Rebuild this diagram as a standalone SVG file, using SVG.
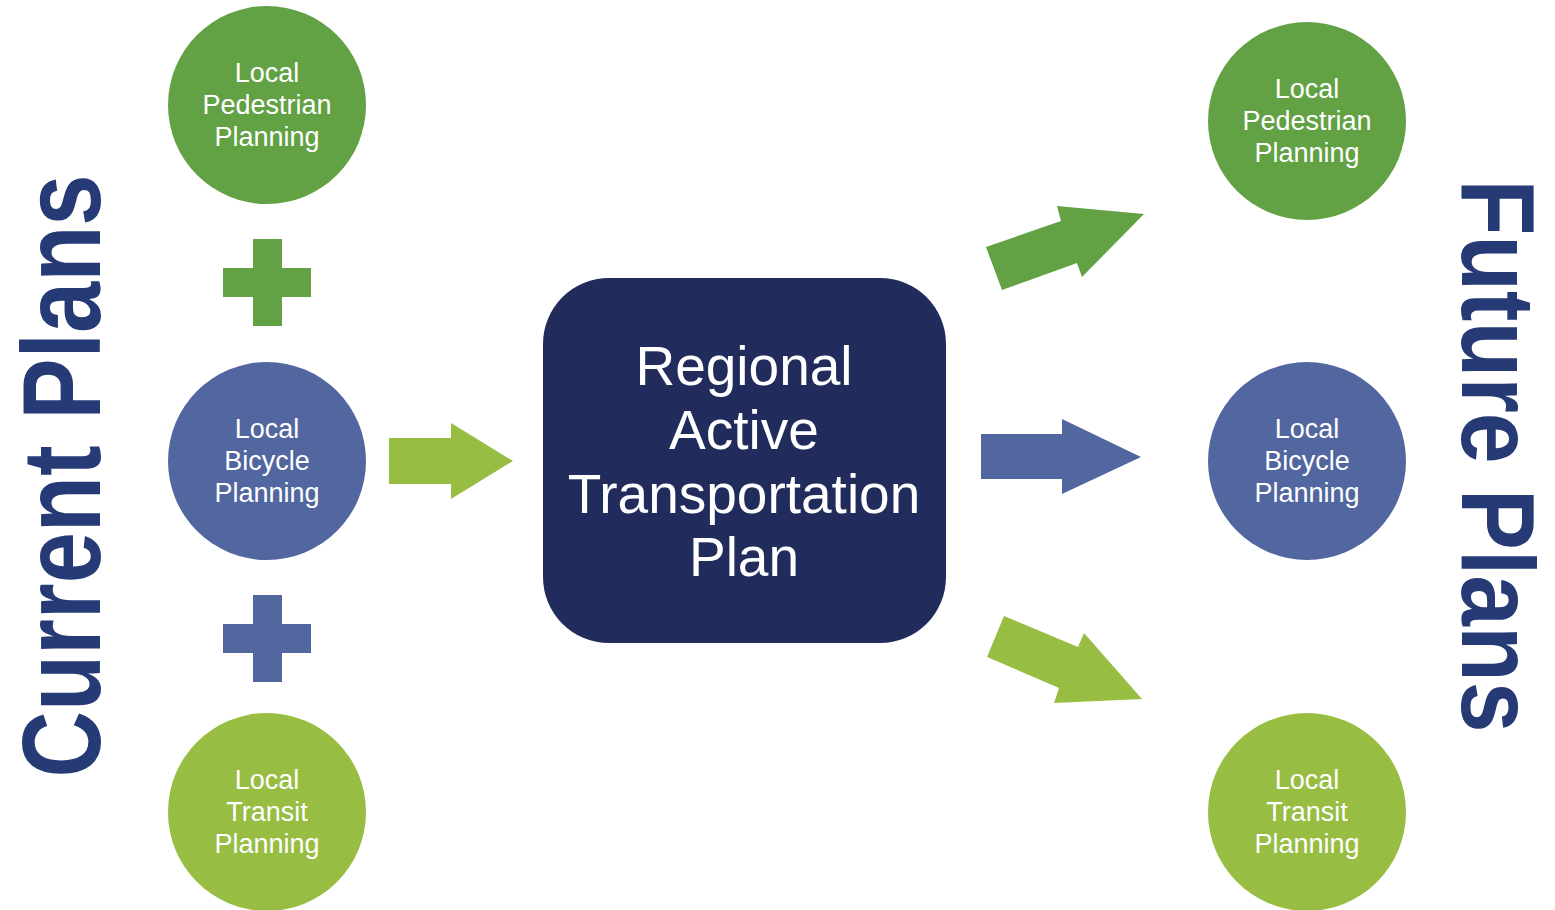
<svg xmlns="http://www.w3.org/2000/svg" width="1555" height="910" viewBox="0 0 1555 910">
<style>
.ct{font-family:"Liberation Sans",Arial,sans-serif;font-size:27px;fill:#ffffff;text-anchor:middle}
.big{font-family:"Liberation Sans",Arial,sans-serif;font-size:55px;fill:#ffffff;text-anchor:middle}
.side{font-family:"Liberation Sans",Arial,sans-serif;font-weight:bold;font-size:112px;fill:#263A75;text-anchor:middle}
.g{fill:#62A144}.b{fill:#5266A0}.lg{fill:#97BD43}.n{fill:#212B5C}
</style>
<rect width="1555" height="910" fill="#ffffff"/>
<g id="title-current"><text class="side" transform="translate(100,476) rotate(-90)" textLength="603" lengthAdjust="spacingAndGlyphs">Current Plans</text></g>
<g id="title-future"><text class="side" transform="translate(1462,456) rotate(90)" textLength="553" lengthAdjust="spacingAndGlyphs" style="font-size:104px">Future Plans</text></g>

<g id="cur-ped"><circle class="g" cx="267" cy="105" r="99"/>
<text class="ct" x="267" y="82">Local</text><text class="ct" x="267" y="114">Pedestrian</text><text class="ct" x="267" y="146">Planning</text></g>
<g id="cur-bike"><circle class="b" cx="267" cy="461" r="99"/>
<text class="ct" x="267" y="438">Local</text><text class="ct" x="267" y="470">Bicycle</text><text class="ct" x="267" y="502">Planning</text></g>
<g id="cur-transit"><circle class="lg" cx="267" cy="812" r="99"/>
<text class="ct" x="267" y="789">Local</text><text class="ct" x="267" y="821">Transit</text><text class="ct" x="267" y="853">Planning</text></g>

<g id="plus1"><path class="g" d="M253,239H282V268H311V297H282V326H253V297H223V268H253Z"/></g>
<g id="plus2"><path class="b" d="M253,595H282V624H311V653H282V682H253V653H223V624H253Z"/></g>

<g id="rat-plan"><rect class="n" x="543" y="278" width="403" height="365" rx="66" ry="66"/>
<text class="big" x="744" y="385">Regional</text><text class="big" x="744" y="449">Active</text><text class="big" x="744" y="513">Transportation</text><text class="big" x="744" y="576">Plan</text></g>

<g id="fut-ped"><circle class="g" cx="1307" cy="121" r="99"/>
<text class="ct" x="1307" y="98">Local</text><text class="ct" x="1307" y="130">Pedestrian</text><text class="ct" x="1307" y="162">Planning</text></g>
<g id="fut-bike"><circle class="b" cx="1307" cy="461" r="99"/>
<text class="ct" x="1307" y="438">Local</text><text class="ct" x="1307" y="470">Bicycle</text><text class="ct" x="1307" y="502">Planning</text></g>
<g id="fut-transit"><circle class="lg" cx="1307" cy="812" r="99"/>
<text class="ct" x="1307" y="789">Local</text><text class="ct" x="1307" y="821">Transit</text><text class="ct" x="1307" y="853">Planning</text></g>

<g id="connectors">
<polygon class="lg" points="389,438 451,438 451,423 513,461 451,499 451,484 389,484"/>
<polygon class="g" points="986,247 1061,221 1057,206 1144,214 1082,277 1077,263 1002,290"/>
<polygon class="b" points="981,434 1062,434 1062,419 1141,457 1062,494 1062,479 981,479"/>
<polygon class="lg" points="1004,616 1078,647 1084,633 1142,699 1054,703 1059,688 987,657"/>
</g>
</svg>
